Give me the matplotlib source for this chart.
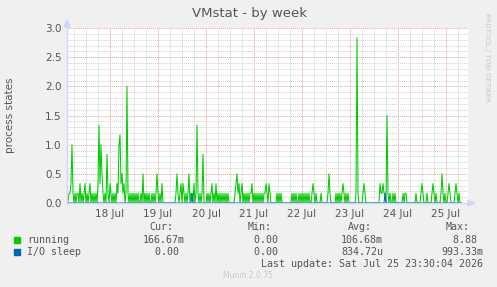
import numpy as np
import matplotlib
matplotlib.use("Agg")
import matplotlib.pyplot as plt
import matplotlib.dates as mdates

# VMstat - by week (munin style)

start = np.datetime64("2026-07-17T02:30")
step = np.timedelta64(30, "m")

# process counts in sixths, one sample per 30 minutes
running_sixths = [
    0, 0, 1, 1, 2, 6, 1, 0, 1, 0,
    1, 1, 0, 2, 0, 1, 0, 1, 2, 0,
    1, 0, 1, 2, 0, 1, 0, 1, 0, 1,
    0, 2, 8, 2, 6, 3, 1, 0, 1, 0,
    5, 1, 0, 2, 1, 0, 1, 0, 1, 0,
    2, 1, 6, 7, 2, 3, 1, 2, 0, 1,
    12, 1, 0, 1, 0, 1, 0, 1, 0, 1,
    0, 1, 0, 0, 1, 0, 3, 0, 1, 0,
    1, 0, 1, 0, 0, 1, 0, 1, 0, 1,
    3, 1, 0, 1, 0, 2, 0, 0, 0, 0,
    0, 0, 0, 0, 0, 0, 0, 0, 0, 1,
    3, 1, 0, 1, 2, 0, 2, 1, 0, 1,
    0, 1, 3, 0, 1, 1, 0, 2, 0, 1,
    8, 1, 0, 1, 0, 1, 5, 0, 0, 0,
    1, 0, 1, 0, 1, 2, 0, 1, 0, 2,
    0, 1, 0, 1, 0, 1, 0, 1, 0, 1,
    0, 1, 0, 0, 0, 0, 0, 0, 1, 2,
    3, 1, 2, 0, 1, 2, 0, 1, 0, 1,
    0, 1, 0, 1, 1, 2, 0, 1, 0, 1,
    0, 1, 0, 1, 0, 1, 0, 1, 1, 2,
    1, 0, 2, 1, 0, 0, 0, 0, 0, 0,
    1, 0, 1, 0, 1, 0, 0, 0, 0, 0,
    0, 0, 0, 0, 0, 1, 0, 1, 0, 1,
    0, 0, 1, 0, 1, 0, 1, 0, 1, 0,
    1, 0, 1, 0, 0, 1, 2, 1, 0, 1,
    0, 0, 0, 0, 1, 0, 0, 0, 0, 0,
    0, 1, 3, 1, 0, 0, 0, 0, 0, 1,
    0, 1, 0, 1, 0, 1, 2, 1, 0, 1,
    0, 1, 0, 0, 0, 0, 0, 0, 0, 1,
    17, 1, 0, 0, 0, 0, 1, 2, 1, 0,
    0, 0, 0, 0, 0, 0, 0, 0, 0, 0,
    0, 0, 0, 2, 1, 1, 2, 1, 1, 0,
    9, 1, 0, 1, 0, 0, 1, 0, 1, 0,
    0, 0, 0, 0, 0, 0, 1, 0, 1, 1,
    0, 0, 0, 0, 0, 0, 0, 0, 0, 1,
    0, 0, 0, 0, 1, 2, 1, 0, 0, 0,
    1, 0, 0, 0, 0, 1, 2, 1, 0, 1,
    0, 0, 0, 0, 1, 3, 1, 0, 1, 0,
    0, 1, 2, 1, 0, 0, 0, 0, 1, 2,
    1, 0, 1, 0, 0,
]
# I/O sleep: sample index -> sixths (zero elsewhere)
io_spike_idx = [125, 318]
io_spike_sixths = [1, 1]

running = np.array(running_sixths) / 6.0
io = np.zeros(len(running))
io[io_spike_idx] = np.array(io_spike_sixths) / 6.0
times = start + step * np.arange(len(running))
t = times.astype("datetime64[m]").astype(object)

labels = ["running", "I/O sleep"]
colors = ["#00CC00", "#0066B3"]
cur = ["166.67m", "0.00"]
mins = ["0.00", "0.00"]
avgs = ["106.68m", "834.72u"]
maxs = ["8.88", "993.33m"]

fig = plt.figure(figsize=(4.97, 2.87), dpi=100, facecolor="#F0F0F0")
W, H = 497, 287
ax = fig.add_axes([67 / W, (H - 203) / H, 401 / W, 175 / H])
ax.set_facecolor("#FFFFFF")

x0 = start.astype("datetime64[m]").astype(object)
x1 = (start + step * 401).astype("datetime64[m]").astype(object)
ax.set_xlim(x0, x1)
ax.set_ylim(0, 3.0)

# grids
ax.set_yticks(np.arange(0, 3.01, 0.5))
ax.set_yticks(np.arange(0, 3.01, 0.1), minor=True)
ax.xaxis.set_major_locator(mdates.DayLocator())
ax.xaxis.set_major_formatter(mdates.DateFormatter("%d %b"))
ax.xaxis.set_minor_locator(mdates.HourLocator(byhour=[6, 12, 18]))
ax.grid(which="minor", color="#D0D0D0", linestyle=(0, (1, 1)), linewidth=0.7)
ax.grid(which="major", color="#E6A0A0", linestyle=(0, (1, 1)), linewidth=0.7)
ax.set_axisbelow(True)

ax.plot(t, running, color=colors[0], linewidth=0.75)
ax.plot(t, io, color=colors[1], linewidth=0.75)

for s in ["top", "right"]:
    ax.spines[s].set_visible(False)
for s in ["left", "bottom"]:
    ax.spines[s].set_color("#CFD6F8")
    ax.spines[s].set_linewidth(1)
ax.tick_params(which="both", length=0, colors="#555555", labelsize=7.5, pad=4)
ax.yaxis.set_major_formatter(matplotlib.ticker.FormatStrFormatter("%.1f"))

# axis arrows
fig.patches.append(plt.Polygon([[64 / W, (H - 27) / H], [70 / W, (H - 27) / H], [67 / W, (H - 20) / H]],
                               closed=True, color="#CFD6F8", transform=fig.transFigure))
fig.patches.append(plt.Polygon([[468 / W, (H - 200) / H], [468 / W, (H - 206) / H], [475 / W, (H - 203) / H]],
                               closed=True, color="#CFD6F8", transform=fig.transFigure))

def fx(px):
    return px / W

def fy(py):
    return (H - py) / H

fig.text(fx(250), fy(14), "VMstat - by week", ha="center", va="center", fontsize=9.5, color="#555555")
fig.text(fx(10), fy(115), "process states", rotation=90, ha="center", va="center", fontsize=7.5, color="#555555")
fig.text(fx(487), fy(57), "RRDTOOL / TOBI OETIKER", rotation=270, ha="center", va="center",
         fontsize=5, color="#C8C8C8")

mono = dict(family="DejaVu Sans Mono", fontsize=7.2, color="#555555", va="center")
fig.text(fx(173), fy(227), "Cur:", ha="right", **mono)
fig.text(fx(272), fy(227), "Min:", ha="right", **mono)
fig.text(fx(372), fy(227), "Avg:", ha="right", **mono)
fig.text(fx(470), fy(227), "Max:", ha="right", **mono)

rows_y = [240, 252]
for i in range(2):
    y = rows_y[i]
    fig.patches.append(plt.Rectangle((fx(14), fy(y + 3)), 6 / W, 6 / H, color=colors[i],
                                     transform=fig.transFigure))
    fig.text(fx(27), fy(y), labels[i], ha="left", **mono)
    for val, right in zip([cur[i], mins[i], avgs[i], maxs[i]], [185, 284, 383, 483]):
        if not val[-1].isalpha():
            val = val + " "
        fig.text(fx(right), fy(y), val, ha="right", **mono)

fig.text(fx(483), fy(264), "Last update: Sat Jul 25 23:30:04 2026", ha="right", **mono)
fig.text(fx(248), fy(276), "Munin 2.0.75", ha="center", va="center", fontsize=5.5, color="#C8C8C8")

fig.savefig("out.png", dpi=100, facecolor=fig.get_facecolor())
